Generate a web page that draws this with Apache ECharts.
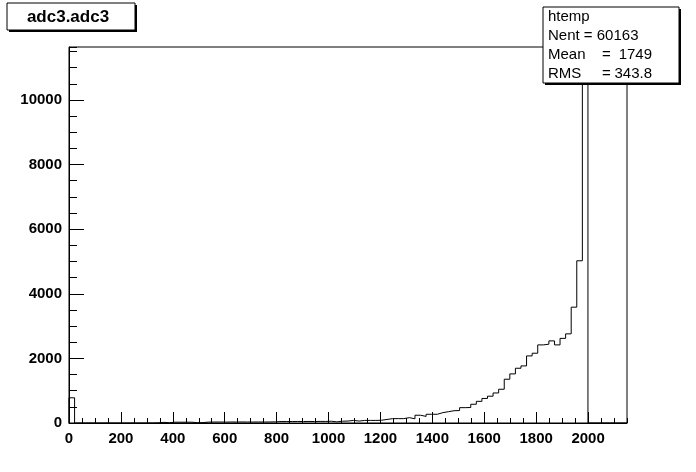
<!DOCTYPE html>
<html><head><meta charset="utf-8">
<script src="https://cdn.jsdelivr.net/npm/echarts@6/dist/echarts.min.js"></script>
<style>html,body{margin:0;padding:0;background:#fff}#c{width:696px;height:472px}</style>
</head><body><div id="c"></div>
<script>
const titleText = 'adc3.adc3';
const histName = 'htemp';
const xMin = 0, xMax = 2150, nBins = 100;
const yMin = 0, yMax = 11640;
const xMajor = 200, xMinor = 50, yMajor = 2000, yMinor = 500;
const binCounts = [780,
  0,0,0,0,0,0,0,0,0,0,0,0,0,0,5,
  20,8,25,25,25,25,10,12,
  28,30,30,28,30,30,32,30,30,32,30,32,35,
  45,45,45,48,45,48,45,50,48,
  55,35,55,60,80,60,80,80,80,85,
  110,135,135,135,165,130,240,205,270,270,
  320,350,380,385,475,480,580,670,760,830,
  930,1045,1355,1520,1695,1767,2077,2160,2418,2439,
  2542,2418,2620,2760,3586,5022,11100,
  0,0,0,0,0,0,0];
const statsLabels = ['Nent', 'Mean', 'RMS'];
const statsValues = ['60163', '1749', '343.8'];

const binW = (xMax - xMin) / nBins;
const stepData = [[xMin, 0]];
binCounts.forEach((v, i) => stepData.push([xMin + i * binW, v]));
stepData.push([xMax, binCounts[nBins - 1]]);

const labelFont = {color: '#000', fontFamily: 'Liberation Sans', fontWeight: 'bold', fontSize: 15};
const chart = echarts.init(document.getElementById('c'), null, {renderer: 'canvas'});

const statFont = '15px "Liberation Sans"';
const graphics = [
  {type: 'rect', z: 100, shape: {x: 9, y: 5, width: 128, height: 27}, style: {fill: '#000'}},
  {type: 'rect', z: 101, shape: {x: 7, y: 3, width: 128, height: 27}, style: {fill: '#fff', stroke: '#000', lineWidth: 1}},
  {type: 'text', z: 102, style: {text: titleText, x: 68, y: 17, font: 'bold 17px "Liberation Sans"', fill: '#000', textAlign: 'center', align: 'center', textVerticalAlign: 'middle', verticalAlign: 'middle'}},
  {type: 'rect', z: 100, shape: {x: 545, y: 9, width: 136, height: 76}, style: {fill: '#000'}},
  {type: 'rect', z: 101, shape: {x: 543, y: 7, width: 136, height: 76}, style: {fill: '#fff', stroke: '#000', lineWidth: 1}},
  {type: 'text', z: 102, style: {text: histName, x: 548, y: 17, font: statFont, fill: '#000', textAlign: 'left', align: 'left', textVerticalAlign: 'middle', verticalAlign: 'middle'}},
  {type: 'text', z: 102, style: {text: statsLabels[0] + ' = ' + statsValues[0], x: 548, y: 36, font: statFont, fill: '#000', textAlign: 'left', align: 'left', textVerticalAlign: 'middle', verticalAlign: 'middle'}}
];
for (let i = 1; i < statsLabels.length; i++) {
  const yy = 36 + i * 19;
  graphics.push({type: 'text', z: 102, style: {text: statsLabels[i], x: 548, y: yy, font: statFont, fill: '#000', textAlign: 'left', align: 'left', textVerticalAlign: 'middle', verticalAlign: 'middle'}});
  graphics.push({type: 'text', z: 102, style: {text: '=', x: 602, y: yy, font: statFont, fill: '#000', textAlign: 'left', align: 'left', textVerticalAlign: 'middle', verticalAlign: 'middle'}});
  graphics.push({type: 'text', z: 102, style: {text: statsValues[i], x: 652, y: yy, font: statFont, fill: '#000', textAlign: 'right', align: 'right', textVerticalAlign: 'middle', verticalAlign: 'middle'}});
}

chart.setOption({
  animation: false,
  backgroundColor: '#fff',
  grid: {left: 69, right: 69, top: 47, bottom: 49, show: true, borderColor: '#000', borderWidth: 1, containLabel: false, outerBoundsMode: 'none'},
  xAxis: [
    {type: 'value', min: xMin, max: xMax, interval: xMajor, position: 'bottom',
     axisLine: {show: true, lineStyle: {color: '#000', width: 1}},
     axisTick: {show: true, inside: true, length: 11, lineStyle: {color: '#000', width: 1}},
     axisLabel: Object.assign({margin: 8, showMaxLabel: false, formatter: v => String(v)}, labelFont),
     splitLine: {show: false}},
    {type: 'value', min: xMin, max: xMax, interval: xMinor, position: 'bottom',
     axisLine: {show: false},
     axisTick: {show: true, inside: true, length: 5, lineStyle: {color: '#000', width: 1}},
     axisLabel: {show: false}, splitLine: {show: false}}
  ],
  yAxis: [
    {type: 'value', min: yMin, max: yMax, interval: yMajor, position: 'left',
     axisLine: {show: true, lineStyle: {color: '#000', width: 1}},
     axisTick: {show: true, inside: true, length: 15, lineStyle: {color: '#000', width: 1}},
     axisLabel: Object.assign({margin: 7, showMaxLabel: false, formatter: v => String(v)}, labelFont),
     splitLine: {show: false}},
    {type: 'value', min: yMin, max: yMax, interval: yMinor, position: 'left',
     axisLine: {show: false},
     axisTick: {show: true, inside: true, length: 8, lineStyle: {color: '#000', width: 1}},
     axisLabel: {show: false}, splitLine: {show: false}}
  ],
  series: [{
    type: 'line', xAxisIndex: 0, yAxisIndex: 0, step: 'end', data: stepData,
    symbol: 'none', lineStyle: {color: '#000', width: 1}, clip: true, silent: true
  }],
  graphic: graphics
});
</script></body></html>
